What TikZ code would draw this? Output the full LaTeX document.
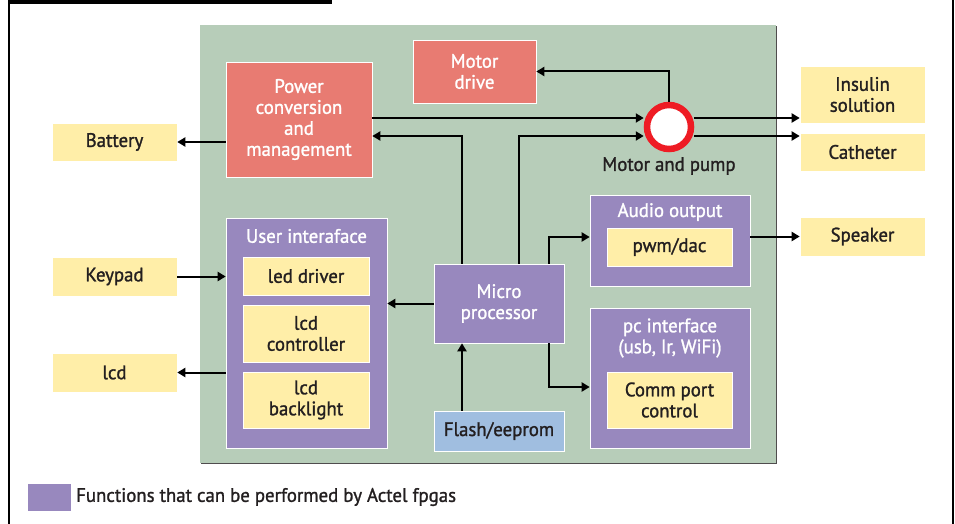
\documentclass[tikz,border=0pt]{standalone}
\usepackage{fontspec}
\setmainfont{PT Sans}[RawFeature={embolden=1.3}, FakeStretch=0.965]
\usepackage{tikz}
\usetikzlibrary{arrows.meta,shadows,positioning}

\definecolor{fpga}{HTML}{9888BE}
\definecolor{ext}{HTML}{FFEEA8}
\definecolor{board}{HTML}{B7CDB9}
\definecolor{power}{HTML}{E87B72}
\definecolor{mem}{HTML}{A0BEE0}
\definecolor{ink}{HTML}{231F20}
\definecolor{pumpred}{HTML}{EE1C24}

\begin{document}
\begin{tikzpicture}
    [
      x=1pt, y=-1pt,
      every node/.style={font=\fontsize{19.5}{21}\selectfont, align=center, inner sep=0pt},
      block/.style={draw=white!70, line width=0.6pt,
        drop shadow={shadow xshift=1pt, shadow yshift=-1pt, fill=ink!80, opacity=1}},
      external/.style={block, fill=ext, text=ink},
      actel/.style={block, fill=fpga, text=white},
      analog/.style={block, fill=power, text=white},
      memory/.style={block, fill=mem, text=ink},
      heading/.style={text=white},
      post/.style={->, >={Triangle[length=8pt,width=9pt]}, line width=2pt},
    ]

    \useasboundingbox (0,0) rectangle (955,524);

    % frame
    \fill [black] (8,0) rectangle (332,4);
    \draw [line width=1.5pt] (9,4) -- (9,524);
    \draw [line width=1.5pt] (953,0) -- (953,524);

    % board
    \node (board) [fill=board, minimum width=576pt, minimum height=438pt,
      drop shadow={shadow xshift=1pt, shadow yshift=-1pt, fill=ink!80, opacity=1}] at (488,244) {};

    \node (power) [analog, minimum width=146pt, minimum height=115pt] at (299,119.5)
      {Power\\conversion\\and\\management};

    \node (motordrive) [analog, minimum width=123pt, minimum height=63pt] at (474.5,71.5)
      {Motor\\drive};

    \node (pump) [circle, draw=pumpred, line width=6.5pt, fill=white, minimum size=44pt] at (669,127) {};
    \node (pump-label) [text=ink] at (669,166) {Motor and pump};

    \node (insulin) [external, minimum width=125pt, minimum height=57pt] at (862.5,94.5) {Insulin\\solution};
    \node (catheter) [external, minimum width=125pt, minimum height=38pt] at (862.5,152) {Catheter};
    \node (speaker) [external, minimum width=125pt, minimum height=39pt] at (862.5,236.5) {Speaker};

    \node (battery) [external, minimum width=125pt, minimum height=38pt] at (114.5,142) {Battery};
    \node (keypad) [external, minimum width=125pt, minimum height=39pt] at (114.5,276.5) {Keypad};
    \node (lcd) [external, minimum width=125pt, minimum height=39pt] at (114.5,372.5) {lcd};

    % user interface
    \node (ui) [actel, minimum width=161pt, minimum height=230pt] at (306.5,333) {};
    \node (ui-title) [heading] at (306.5,236) {User interaface};
    \node (led-driver) [external, minimum width=126pt, minimum height=38pt] at (306,276) {led driver};
    \node (lcd-ctrl) [external, minimum width=126pt, minimum height=57pt] at (306,333.5) {lcd\\controller};
    \node (lcd-back) [external, minimum width=126pt, minimum height=56pt] at (306,400) {lcd\\backlight};

    \node (micro) [actel, minimum width=130pt, minimum height=79pt] at (499,303.5) {Micro\\processor};
    \node (flash) [memory, minimum width=130pt, minimum height=40pt] at (499,431) {Flash/eeprom};

    % audio
    \node (audio) [actel, minimum width=160pt, minimum height=91pt] at (670,240.5) {};
    \node (audio-title) [heading] at (670,212) {Audio output};
    \node (pwm) [external, minimum width=125pt, minimum height=38pt] at (669.5,247) {pwm/dac};

    % pc interface
    \node (pc) [actel, minimum width=160pt, minimum height=140pt] at (670,378) {};
    \node (pc-title) [heading] at (670,338) {pc interface\\(usb, Ir, WiFi)};
    \node (comm) [external, minimum width=125pt, minimum height=56pt] at (669.5,400) {Comm port\\control};

    % legend
    \node (legend-key) [actel, minimum width=44pt, minimum height=28pt] at (49,497) {};
    \node (legend) [text=ink, anchor=west] at (76,497) {Functions that can be performed by Actel fpgas};

    \path
    (power.west |- battery.east) edge [post] (battery.east)
    (keypad.east) edge [post] (keypad.east -| ui.west)
    (ui.west |- lcd.east) edge [post] (lcd.east)
    (micro.west) edge [post] (micro.west -| ui.east)
    ([xshift=-37pt]flash.north) edge [post] ([xshift=-37pt]micro.south)
    ([yshift=9pt]pump.east) edge [post] ([yshift=9pt]pump.east -| insulin.west)
    ([yshift=-9pt]pump.east) edge [post] ([yshift=-9pt]pump.east -| catheter.west)
    (audio.east |- speaker.west) edge [post] (speaker.west)
    ([yshift=1.5pt]power.east) edge [post] ([yshift=9pt]pump.west)
    ;

    \draw [post] (pump.north) |- (motordrive.east);
    \draw [post] ([xshift=-37pt]micro.north) |- ([yshift=-16.5pt]power.east);
    \draw [post] ([xshift=20pt]micro.north) |- ([yshift=-9pt]pump.west);
    \draw [post] ([xshift=50pt]micro.north) |- ([yshift=3.5pt]audio.west);
    \draw [post] ([xshift=50pt]micro.south) |- ([yshift=-9pt]pc.west);

  \end{tikzpicture}
\end{document}
